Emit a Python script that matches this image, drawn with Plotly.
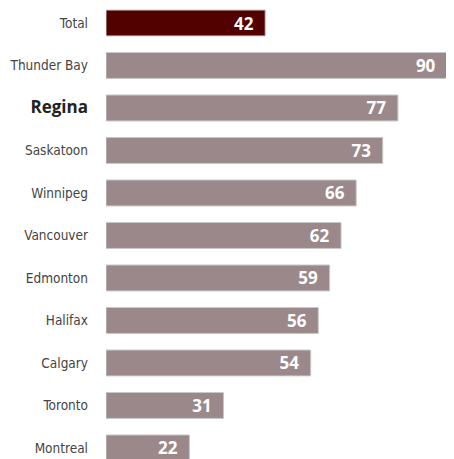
import plotly.graph_objects as go

# data, top to bottom
cities = [
    "Total",
    "Thunder Bay",
    "Regina",
    "Saskatoon",
    "Winnipeg",
    "Vancouver",
    "Edmonton",
    "Halifax",
    "Calgary",
    "Toronto",
    "Montreal",
]
values = [42, 90, 77, 73, 66, 62, 59, 56, 54, 31, 22]
highlight = "Regina"

bar_colors = ["#530000" if c == "Total" else "#9b888b" for c in cities]
tick_text = [
    f'<span style="font-family:Open Sans;font-size:17px;color:#222"><b>{c}</b></span>'
    if c == highlight
    else c
    for c in cities
]
pos = list(range(len(cities)))

fig = go.Figure()
fig.add_trace(
    go.Bar(
        x=values,
        y=pos,
        orientation="h",
        width=0.61,
        marker=dict(color=bar_colors, line=dict(color="#c8c8c8", width=1)),
        text=[f"<b>{v}</b>  " for v in values],
        textposition="inside",
        insidetextanchor="end",
        textfont=dict(family="Open Sans", size=17, color="white"),
        hoverinfo="skip",
    )
)

# page body has an 8px margin, so the figure is 8px smaller than the window
fig.update_layout(
    width=446,
    height=451,
    plot_bgcolor="white",
    paper_bgcolor="white",
    margin=dict(t=0, r=0, b=0, l=98),
    showlegend=False,
    uniformtext=dict(minsize=17, mode="show"),
)
fig.update_xaxes(range=[0, 91.8], visible=False, fixedrange=True)
fig.update_yaxes(
    range=[10.26, -0.353],
    tickmode="array",
    tickvals=pos,
    ticktext=tick_text,
    tickfont=dict(family="Liberation Sans Narrow, DejaVu Sans Condensed, sans-serif", size=13.5, color="#444"),
    ticklabelstandoff=17,
    automargin=False,
    showgrid=False,
    zeroline=False,
    showline=False,
    fixedrange=True,
)

fig.write_html("out.html")
